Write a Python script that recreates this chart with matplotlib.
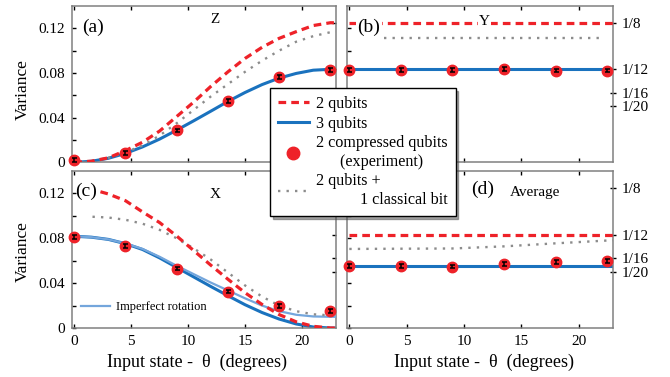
import matplotlib
matplotlib.use("Agg")
import matplotlib.pyplot as plt
from matplotlib.lines import Line2D

plt.rcParams['font.family'] = ['Liberation Serif', 'DejaVu Serif']
plt.rcParams['mathtext.fontset'] = 'stix'

# ---------------- data ----------------
theta = [0, 1.5, 3, 4.5, 6, 7.5, 9, 10.5, 12, 13.5, 15, 16.5, 18, 19.5, 21, 22.5, 23]

# (a) Z
z_two = [0, 0.001, 0.004, 0.0105, 0.018, 0.028, 0.041, 0.054, 0.068, 0.081, 0.093,
         0.103, 0.111, 0.117, 0.1225, 0.125, 0.125]
z_three = [0, 0.0009, 0.0036, 0.008, 0.0138, 0.0208, 0.0288, 0.0372, 0.0458, 0.0545,
           0.0625, 0.0696, 0.0754, 0.0796, 0.0825, 0.0833, 0.0832]
theta_zc = [1.5, 3, 4.5, 6, 7.5, 9, 10.5, 12, 13.5, 15, 16.5, 18, 19.5, 21, 22.5, 23]
z_cbit = [0.0008, 0.004, 0.009, 0.015, 0.024, 0.035, 0.047, 0.059, 0.070, 0.081,
          0.091, 0.100, 0.108, 0.113, 0.1165, 0.117]

# (b) Y
theta_flat = [0, 23]
y_two = [0.125, 0.125]
y_three = [0.0833, 0.0833]
theta_yc = [3.0, 22.3]
y_cbit = [0.111, 0.111]

# (c) X
x_three = [0.0818, 0.081, 0.079, 0.0752, 0.070, 0.0625, 0.054, 0.0455, 0.037, 0.0288,
           0.0208, 0.0138, 0.008, 0.0036, 0.0009, 0.0, 0.0]
x_imperfect = [0.0818, 0.081, 0.079, 0.0754, 0.0705, 0.0635, 0.0555, 0.048, 0.0405,
               0.0335, 0.0265, 0.020, 0.015, 0.0118, 0.0103, 0.010, 0.010]
theta_xr = [2.3, 3, 4.5, 6, 7.5, 9, 10.5, 12, 13.5, 15, 16.5, 18, 19.5, 21, 22.5, 23]
x_two = [0.1215, 0.1195, 0.1135, 0.1035, 0.094, 0.082, 0.069, 0.056, 0.0435, 0.0315,
         0.021, 0.012, 0.0055, 0.0015, 0.0, 0.0]
theta_xc = [1.6, 3, 4.5, 6, 7.5, 9, 10.5, 12, 13.5, 15, 16.5, 18, 19.5, 21, 22.5, 23]
x_cbit = [0.0992, 0.0985, 0.0965, 0.093, 0.0875, 0.080, 0.071, 0.061, 0.0495, 0.038,
          0.028, 0.020, 0.015, 0.0122, 0.0113, 0.0112]

# (d) Average
avg_two = [0.0833, 0.0833]
avg_three = [0.0555, 0.0555]
theta_ac = [0, 4.5, 9, 13.5, 18, 22.5, 23]
avg_cbit = [0.0705, 0.0707, 0.0709, 0.0728, 0.0755, 0.078, 0.0783]

# experiment
theta_exp = [0, 4.5, 9, 13.5, 18, 22.5]
exp_z = [0.002, 0.0085, 0.0285, 0.055, 0.0765, 0.0825]
exp_y = [0.0827, 0.0827, 0.083, 0.0838, 0.0822, 0.0822]
exp_x = [0.081, 0.073, 0.053, 0.0325, 0.0195, 0.0155]
exp_avg = [0.0553, 0.055, 0.0548, 0.0568, 0.0588, 0.0595]
exp_err = [0.0017, 0.0017, 0.0017, 0.0017, 0.0017, 0.0017]

right_ticks = [1/8, 1/12, 1/16, 1/20]
right_labels = ['1/8', '1/12', '1/16', '1/20']
left_ticks = [0, 0.04, 0.08, 0.12]
left_labels = ['0', '0.04', '0.08', '0.12']
x_ticks = [0, 5, 10, 15, 20]

# ---------------- style ----------------
RED = '#ee2229'
BLUE = '#1a72be'
LIGHTBLUE = '#74a6dc'
GRAY = '#8c8c8c'
SPINE = '#808080'

red_kw = dict(color=RED, lw=2.3, ls=(0, (2.4, 1.6)), zorder=3)
blue_kw = dict(color=BLUE, lw=2.2, ls='-', zorder=2.5)
gray_kw = dict(color=GRAY, lw=1.7, ls=(0, (1, 2.6)), zorder=2.8)

fig = plt.figure(figsize=(6.7, 3.77), dpi=100)

W, H = 670, 377
def pos(l, t, r, b):
    return [l / W, 1 - b / H, (r - l) / W, (b - t) / H]

ax_a = fig.add_axes(pos(72, 6, 336, 162.3))
ax_b = fig.add_axes(pos(347, 6, 613, 162.3))
ax_c = fig.add_axes(pos(72, 171, 336, 328))
ax_d = fig.add_axes(pos(347, 171, 613, 328))

for ax in (ax_a, ax_b, ax_c, ax_d):
    ax.set_xlim(-0.2, 23.0)
    ax.set_ylim(0, 0.14)
    ax.set_xticks(x_ticks)
    ax.set_yticks(left_ticks)
    ax.set_yticks([0.02, 0.06, 0.10], minor=True)
    ax.tick_params(axis='both', which='both', direction='in', top=True, right=False,
                   length=3, width=1, color='black', labelsize=11, pad=5)
    ax.tick_params(axis='y', which='minor', length=3)
    for s in ax.spines.values():
        s.set_color(SPINE)
        s.set_linewidth(1.1)
    sec = ax.secondary_yaxis('right')
    sec.set_yticks(right_ticks)
    sec.spines['right'].set_visible(False)
    if ax in (ax_b, ax_d):
        sec.set_yticklabels(right_labels)
        sec.tick_params(direction='inout', length=5, width=1, labelsize=11, pad=4)
    else:
        sec.set_yticklabels([])
        sec.tick_params(direction='in', length=3, width=1)

for ax in (ax_a, ax_c):
    ax.set_yticklabels(left_labels)
for ax in (ax_b, ax_d):
    ax.set_yticklabels([])
for ax in (ax_a, ax_b):
    ax.set_xticklabels([])


def experiment(ax, vals):
    ax.plot(theta_exp, vals, 'o', color=RED, ms=7.5, mec=RED, zorder=5, clip_on=False)
    ax.errorbar(theta_exp, vals, yerr=exp_err, fmt='none', ecolor='black',
                elinewidth=1.1, capsize=1.8, capthick=1.1, zorder=6, clip_on=False)

# (a)
ax_a.plot(theta, z_two, **red_kw)
ax_a.plot(theta_zc, z_cbit, **gray_kw)
ax_a.plot(theta, z_three, **blue_kw)
experiment(ax_a, exp_z)
ax_a.text(0.7, 0.121, '(a)', fontsize=14, va='center', ha='left')
ax_a.text(12.4, 0.1275, 'Z', fontsize=11, va='center', ha='center')

# (b)
ax_b.plot(theta_flat, y_two, **red_kw)
ax_b.plot(theta_yc, y_cbit, **gray_kw)
ax_b.plot(theta_flat, y_three, **blue_kw)
experiment(ax_b, exp_y)
ax_b.text(0.7, 0.1205, '(b)', fontsize=14, va='center', ha='left',
          bbox=dict(facecolor='white', edgecolor='none', pad=1), zorder=7)
ax_b.text(11.8, 0.1265, 'Y', fontsize=11, va='center', ha='center',
          bbox=dict(facecolor='white', edgecolor='none', pad=1), zorder=7)

# (c)
ax_c.plot(theta_xr, x_two, **red_kw)
ax_c.plot(theta_xc, x_cbit, **gray_kw)
ax_c.plot(theta, x_imperfect, color=LIGHTBLUE, lw=1.6, zorder=2.6)
ax_c.plot(theta, x_three, **blue_kw)
experiment(ax_c, exp_x)
ax_c.text(0.05, 0.1215, '(c)', fontsize=14, va='center', ha='left')
ax_c.text(12.4, 0.119, 'X', fontsize=11, va='center', ha='center')
imp_handle = Line2D([], [], color=LIGHTBLUE, lw=1.6)
ax_c.legend([imp_handle], ['Imperfect rotation'], loc='lower left', frameon=False,
            fontsize=9, handlelength=2.3, handletextpad=0.5,
            bbox_to_anchor=(0.0, 0.04), borderaxespad=0.3)

# (d)
ax_d.text(10.6, 0.1235, '(d)', fontsize=14, va='center', ha='left')
ax_d.text(14.0, 0.1205, 'Average', fontsize=11, va='center', ha='left')
ax_d.plot(theta_flat, avg_two, **red_kw)
ax_d.plot(theta_ac, avg_cbit, **gray_kw)
ax_d.plot(theta_flat, avg_three, **blue_kw)
experiment(ax_d, exp_avg)

# axis labels
fig.text(23 / W, 1 - 90 / H, 'Variance', rotation=90, fontsize=12.5, ha='center', va='center')
fig.text(23 / W, 1 - 252 / H, 'Variance', rotation=90, fontsize=12.5, ha='center', va='center')
fig.text(197 / W, 1 - 362 / H, 'Input state -  θ  (degrees)', fontsize=13, ha='center', va='center')
fig.text(484 / W, 1 - 362 / H, 'Input state -  θ  (degrees)', fontsize=13, ha='center', va='center')

# main legend
handles = [
    Line2D([], [], **{k: v for k, v in red_kw.items() if k != 'zorder'}),
    Line2D([], [], **{k: v for k, v in blue_kw.items() if k != 'zorder'}),
    Line2D([], [], ls='none', marker='o', color=RED, ms=9),
    Line2D([], [], **{k: v for k, v in gray_kw.items() if k != 'zorder'}),
]
labels = ['2 qubits', '3 qubits', '2 compressed qubits\n      (experiment)',
          '2 qubits +\n           1 classical bit']
leg = fig.legend(handles, labels, loc='upper left', bbox_to_anchor=(270 / W, 1 - 88 / H),
                 fontsize=11.6, frameon=True, fancybox=False, shadow=True,
                 edgecolor='black', framealpha=1, handlelength=1.9, handletextpad=0.45,
                 labelspacing=0.22, borderpad=0.5, borderaxespad=0)
for t in leg.get_texts():
    t.set_linespacing(1.22)
leg.get_frame().set_linewidth(1.0)
leg.set_zorder(20)

fig.savefig('out.png', dpi=100)
